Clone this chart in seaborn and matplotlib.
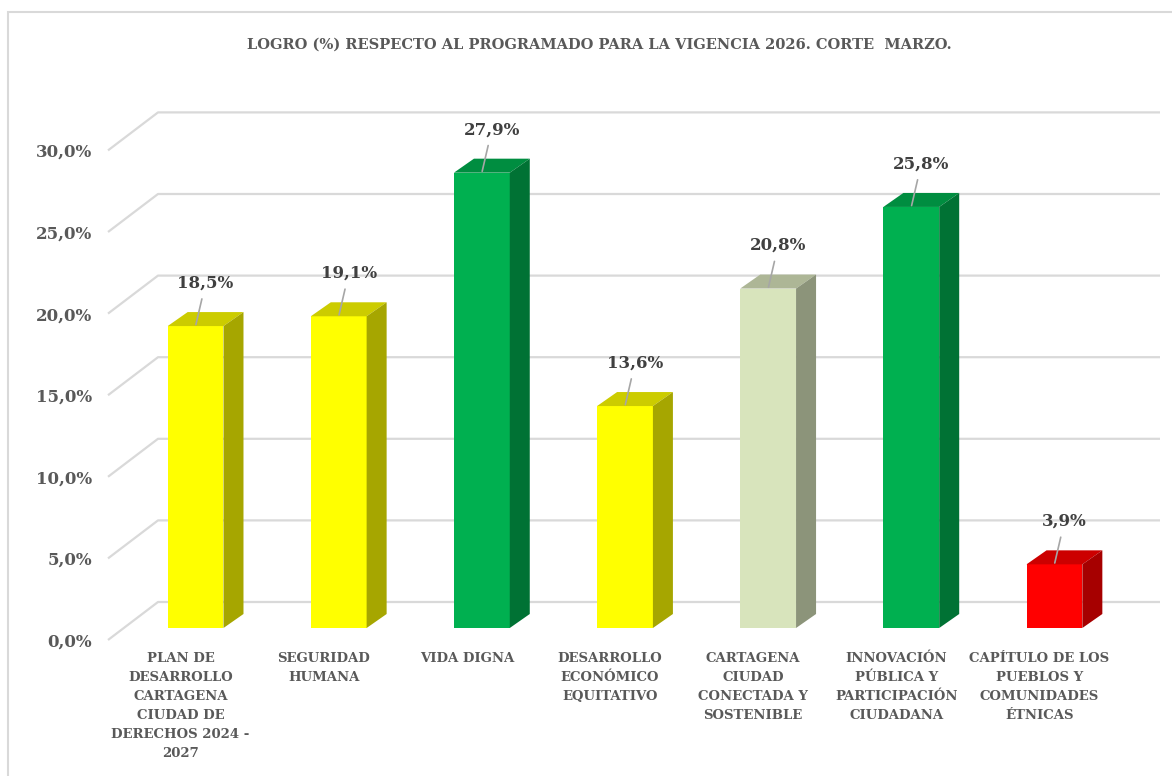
"""
Logro (%) respecto al programado - vigencia 2026, corte marzo.
Pseudo-3D column chart in the Excel style.
"""

import matplotlib
matplotlib.use("Agg")
import matplotlib.pyplot as plt
import matplotlib.transforms as mtransforms
from matplotlib.patches import Polygon, Rectangle
from matplotlib.colors import to_rgb
import seaborn as sns
import pandas as pd

# ---- data -------------------------------------------------------------
categories = [
    "PLAN DE DESARROLLO CARTAGENA CIUDAD DE DERECHOS 2024 - 2027",
    "SEGURIDAD HUMANA",
    "VIDA DIGNA",
    "DESARROLLO ECONÓMICO EQUITATIVO",
    "CARTAGENA CIUDAD CONECTADA Y SOSTENIBLE",
    "INNOVACIÓN PÚBLICA Y PARTICIPACIÓN CIUDADANA",
    "CAPÍTULO DE LOS PUEBLOS Y COMUNIDADES ÉTNICAS",
]
tick_labels = [
    "PLAN DE\nDESARROLLO\nCARTAGENA\nCIUDAD DE\nDERECHOS 2024 -\n2027",
    "SEGURIDAD\nHUMANA",
    "VIDA DIGNA",
    "DESARROLLO\nECONÓMICO\nEQUITATIVO",
    "CARTAGENA\nCIUDAD\nCONECTADA Y\nSOSTENIBLE",
    "INNOVACIÓN\nPÚBLICA Y\nPARTICIPACIÓN\nCIUDADANA",
    "CAPÍTULO DE LOS\nPUEBLOS Y\nCOMUNIDADES\nÉTNICAS",
]
logro = [18.5, 19.1, 27.9, 13.6, 20.8, 25.8, 3.9]
front_colors = ["#FFFF00", "#FFFF00", "#00B050", "#FFFF00",
                "#D8E4BC", "#00B050", "#FF0000"]
y_ticks = [0, 5, 10, 15, 20, 25, 30]

title = "LOGRO (%) RESPECTO AL PROGRAMADO PARA LA VIGENCIA 2026. CORTE  MARZO."

TEXT_GRAY = "#595959"
LABEL_GRAY = "#404040"
GRID_GRAY = "#d9d9d9"

# ---- style ------------------------------------------------------------
sns.set_style("white")
plt.rcParams["font.family"] = ["DejaVu Serif"]
plt.rcParams["font.weight"] = "bold"

W, H = 1172, 776
fig = plt.figure(figsize=(W / 100, H / 100), dpi=100)

# plot area (front plane of the bars), in pixels
left_px, right_px = 124, 1126
bottom_px, top_px = 628, 138.4
ax = fig.add_axes([left_px / W, (H - bottom_px) / H,
                   (right_px - left_px) / W, (bottom_px - top_px) / H])
ax.patch.set_alpha(0)

df = pd.DataFrame({"categoria": categories, "logro": logro})

sns.barplot(
    data=df,
    x="categoria",
    y="logro",
    hue="categoria",
    palette=front_colors,
    width=0.39,
    legend=False,
    saturation=1,
    linewidth=0,
    edgecolor="none",
    ax=ax,
    zorder=3,
)

ax.set_xlim(-0.5, len(categories) - 0.5)
ax.set_ylim(0, 30)
for s in ax.spines.values():
    s.set_visible(False)
ax.set_xlabel("")
ax.set_ylabel("")

# pixel -> data conversion
p0 = ax.transData.transform((0, 0))
p1 = ax.transData.transform((1, 1))
px_x = p1[0] - p0[0]
px_y = p1[1] - p0[1]


def dx(px):
    return px / px_x


def dy(px):
    return px / px_y


# ---- perspective walls (gridlines) ---------------------------------------
for t in y_ticks:
    xs = [-0.5 - dx(16), -0.5 + dx(34), len(categories) - 0.5 + dx(34)]
    ys = [t - dy(12), t + dy(26), t + dy(26)]
    ax.plot(xs, ys, color=GRID_GRAY, lw=1.6, zorder=1, clip_on=False,
            solid_capstyle="butt")

# ---- 3D faces on the bars --------------------------------------------
depth_x, depth_y = dx(20), dy(14)
for bar, col in zip(ax.patches, front_colors):
    x0 = bar.get_x()
    x1 = x0 + bar.get_width()
    h = bar.get_height()
    r, g, b = to_rgb(col)
    top_col = (r * 0.8, g * 0.8, b * 0.8)
    side_col = (r * 0.65, g * 0.65, b * 0.65)
    ax.add_patch(Polygon(
        [(x0, h), (x1, h), (x1 + depth_x, h + depth_y), (x0 + depth_x, h + depth_y)],
        closed=True, facecolor=top_col, edgecolor="none", zorder=3, clip_on=False))
    ax.add_patch(Polygon(
        [(x1, 0), (x1 + depth_x, depth_y), (x1 + depth_x, h + depth_y), (x1, h)],
        closed=True, facecolor=side_col, edgecolor="none", zorder=3, clip_on=False))

    ax.annotate(
        f"{h:.1f}%".replace(".", ","),
        xy=(bar.get_x() + bar.get_width() / 2, h),
        xytext=(10, 43),
        textcoords="offset pixels",
        ha="center",
        va="center",
        fontsize=12,
        fontweight="bold",
        color=LABEL_GRAY,
        zorder=5,
        annotation_clip=False,
        arrowprops=dict(arrowstyle="-", color="#a6a6a6", lw=1.2,
                        shrinkA=3, shrinkB=1),
    )

# ---- axes ticks --------------------------------------------------------
ax.set_yticks(y_ticks)
ax.set_yticklabels([f"{t:.1f}%".replace(".", ",") for t in y_ticks],
                   fontsize=12, fontweight="bold", color=TEXT_GRAY)
ax.tick_params(axis="y", length=0, pad=23)

ax.set_xticks(range(len(categories)))
ax.set_xticklabels(tick_labels, fontsize=9.5, fontweight="bold",
                   color=TEXT_GRAY, linespacing=1.6, va="top")
ax.tick_params(axis="x", length=0, pad=17)

shift_y = mtransforms.ScaledTranslation(0, -12 / 100, fig.dpi_scale_trans)
for lab in ax.get_yticklabels():
    lab.set_transform(lab.get_transform() + shift_y)
shift_x = mtransforms.ScaledTranslation(-15 / 100, 0, fig.dpi_scale_trans)
for lab in ax.get_xticklabels():
    lab.set_transform(lab.get_transform() + shift_x)

# ---- title and chart border -------------------------------------------
fig.text(599 / W, 1 - 45 / H, title, ha="center", va="center",
         fontsize=10.5, fontweight="bold", color=TEXT_GRAY)

fig.patches.append(Rectangle((8 / W, -0.1), 1.2, 1.1 - 12 / H,
                             transform=fig.transFigure, fill=False,
                             edgecolor=GRID_GRAY, lw=1.5))

fig.savefig("out.png", dpi=100)
plt.close(fig)
